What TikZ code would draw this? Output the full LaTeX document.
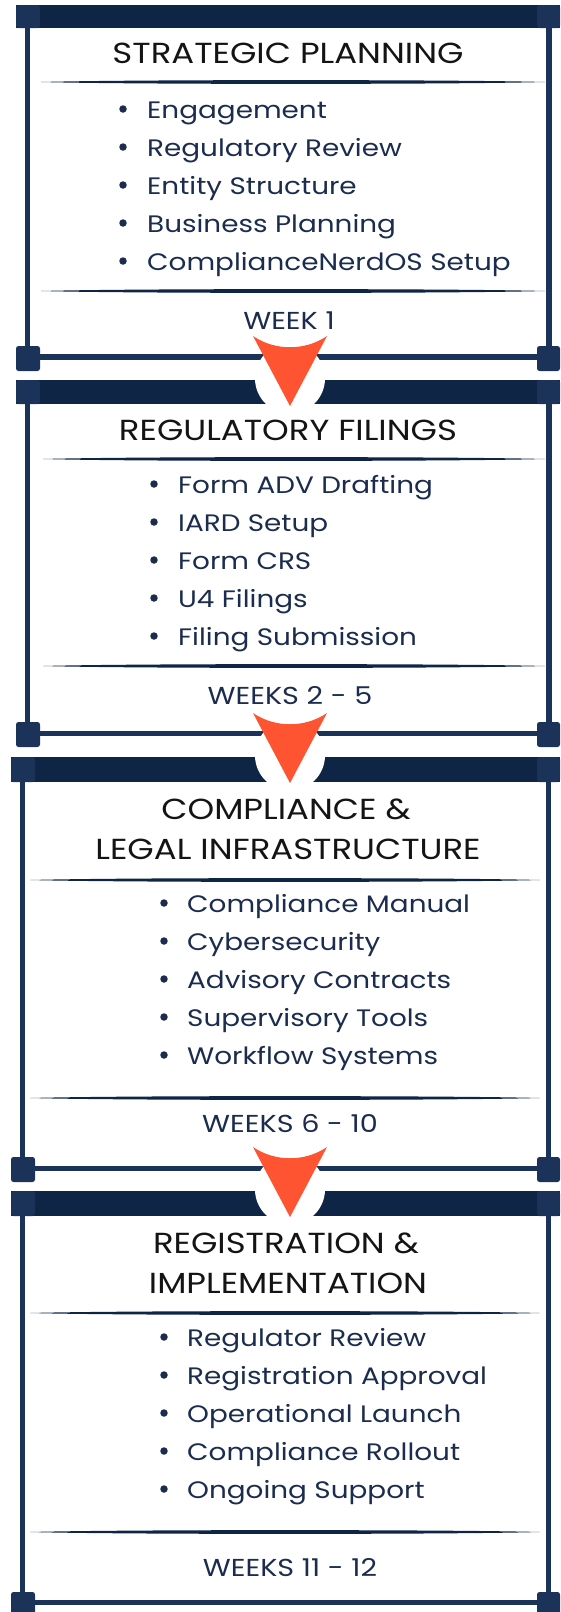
\documentclass[tikz,border=0pt]{standalone}
\usepackage{fontspec}
\setmainfont{Poppins}[FakeStretch=1.17]
\usepackage{tikz}
\definecolor{barnavy}{RGB}{14,37,70}
\definecolor{framenavy}{RGB}{27,51,88}
\definecolor{textnavy}{RGB}{27,44,78}
\definecolor{arrowred}{RGB}{255,84,50}

\begin{document}
\begin{tikzpicture}[x=1pt,y=-1pt,
  title/.style={font=\fontsize{29}{34}\selectfont, text=black!92, inner sep=0pt, anchor=base},
  item/.style={font=\fontsize{23.8}{28}\selectfont, text=textnavy, inner sep=0pt, anchor=base west},
  week/.style={font=\fontsize{24.5}{29}\selectfont, text=textnavy, inner sep=0pt, anchor=base},
  dot/.style={circle, fill=textnavy, minimum size=7.5pt, inner sep=0pt},
  bar/.style={fill=barnavy},
  corner/.style={fill=framenavy, rounded corners=2.5pt},
  frame/.style={draw=framenavy, line width=5.5pt},
  sep/.style={fill=barnavy},
  hole/.style={fill=white},
  point/.style={fill=arrowred}]
\useasboundingbox (0,0) rectangle (560,1612);
% box 1
\fill [bar] (16,5) rectangle (560,28);
\draw [frame] (27.5,28) -- (27.5,358);
\draw [frame] (549,28) -- (549,358);
\draw [frame] (28,357) -- (548,357);
\fill [corner] (16,5) rectangle (40,28);
\fill [corner] (537,5) rectangle (560,28);
\fill [corner] (16,346) rectangle (40,371);
\fill [corner] (537,346) rectangle (560,371);
\fill [sep] (41,82) .. controls (130,79.5) and (450,79.5) .. (545,82) .. controls (450,84.5) and (130,84.5) .. (41,82) -- cycle;
\fill [sep] (41,291) .. controls (130,288.5) and (450,288.5) .. (545,291) .. controls (450,293.5) and (130,293.5) .. (41,291) -- cycle;
\node [title] (t1) at (288,63.5) {STRATEGIC PLANNING};
\node [dot] (d11) at (123,109) {};
\node [dot] (d12) at (123,147) {};
\node [dot] (d13) at (123,185) {};
\node [dot] (d14) at (123,223) {};
\node [dot] (d15) at (123,261) {};
\node [item] (i11) at (147,118) {Engagement};
\node [item] (i12) at (147,156) {Regulatory Review};
\node [item] (i13) at (147,194) {Entity Structure};
\node [item] (i14) at (147,232) {Business Planning};
\node [item] (i15) at (147,270) {ComplianceNerdOS Setup};
\node [week] (w1) at (289,329) {WEEK 1};
% box 2
\fill [bar] (16,380) rectangle (560,404);
\draw [frame] (27.5,404) -- (27.5,734);
\draw [frame] (549,404) -- (549,734);
\draw [frame] (28,733.5) -- (548,733.5);
\fill [corner] (16,380) rectangle (40,404);
\fill [corner] (537,380) rectangle (560,404);
\fill [corner] (16,722) rectangle (40,747);
\fill [corner] (537,722) rectangle (560,747);
\fill [sep] (43,459) .. controls (130,456.5) and (450,456.5) .. (545,459) .. controls (450,461.5) and (130,461.5) .. (43,459) -- cycle;
\fill [sep] (43,666) .. controls (130,663.5) and (450,663.5) .. (545,666) .. controls (450,668.5) and (130,668.5) .. (43,666) -- cycle;
\node [title] (t2) at (288,440.5) {REGULATORY FILINGS};
\node [dot] (d21) at (154,484) {};
\node [dot] (d22) at (154,522) {};
\node [dot] (d23) at (154,560) {};
\node [dot] (d24) at (154,598) {};
\node [dot] (d25) at (154,636) {};
\node [item] (i21) at (178,493) {Form ADV Drafting};
\node [item] (i22) at (178,531) {IARD Setup};
\node [item] (i23) at (178,569) {Form CRS};
\node [item] (i24) at (178,607) {U4 Filings};
\node [item] (i25) at (178,645) {Filing Submission};
\node [week] (w2) at (290,704) {WEEKS 2 - 5};
% box 3
\fill [bar] (11,757) rectangle (560,782);
\draw [frame] (22.5,782) -- (22.5,1169);
\draw [frame] (548.5,782) -- (548.5,1169);
\draw [frame] (23,1168.5) -- (548,1168.5);
\fill [corner] (11,757) rectangle (35,782);
\fill [corner] (537,757) rectangle (560,782);
\fill [corner] (11,1157) rectangle (35,1182);
\fill [corner] (537,1157) rectangle (560,1182);
\fill [sep] (30,880) .. controls (120,877.5) and (450,877.5) .. (540,880) .. controls (450,882.5) and (120,882.5) .. (30,880) -- cycle;
\fill [sep] (30,1098) .. controls (120,1095.5) and (450,1095.5) .. (540,1098) .. controls (450,1100.5) and (120,1100.5) .. (30,1098) -- cycle;
\node [title] (t3a) at (286,819.5) {COMPLIANCE \&};
\node [title] (t3b) at (288,859.5) {LEGAL INFRASTRUCTURE};
\node [dot] (d31) at (164,903) {};
\node [dot] (d32) at (164,941) {};
\node [dot] (d33) at (164,979) {};
\node [dot] (d34) at (164,1017) {};
\node [dot] (d35) at (164,1055) {};
\node [item] (i31) at (187,912) {Compliance Manual};
\node [item] (i32) at (187,950) {Cybersecurity};
\node [item] (i33) at (187,988) {Advisory Contracts};
\node [item] (i34) at (187,1026) {Supervisory Tools};
\node [item] (i35) at (187,1064) {Workflow Systems};
\node [week] (w3) at (290,1132) {WEEKS 6 - 10};
% box 4
\fill [bar] (11,1191) rectangle (560,1216);
\draw [frame] (22.5,1216) -- (22.5,1603);
\draw [frame] (548.5,1216) -- (548.5,1603);
\draw [frame] (23,1602.5) -- (548,1602.5);
\fill [corner] (11,1191) rectangle (35,1216);
\fill [corner] (537,1191) rectangle (560,1216);
\fill [corner] (11,1592) rectangle (35,1616);
\fill [corner] (537,1592) rectangle (560,1616);
\fill [sep] (30,1313) .. controls (120,1310.5) and (450,1310.5) .. (540,1313) .. controls (450,1315.5) and (120,1315.5) .. (30,1313) -- cycle;
\fill [sep] (30,1532) .. controls (120,1529.5) and (450,1529.5) .. (540,1532) .. controls (450,1534.5) and (120,1534.5) .. (30,1532) -- cycle;
\node [title] (t4a) at (286,1253.5) {REGISTRATION \&};
\node [title] (t4b) at (288,1293.5) {IMPLEMENTATION};
\node [dot] (d41) at (164,1337) {};
\node [dot] (d42) at (164,1375) {};
\node [dot] (d43) at (164,1413) {};
\node [dot] (d44) at (164,1451) {};
\node [dot] (d45) at (164,1489) {};
\node [item] (i41) at (187,1346) {Regulator Review};
\node [item] (i42) at (187,1384) {Registration Approval};
\node [item] (i43) at (187,1422) {Operational Launch};
\node [item] (i44) at (187,1460) {Compliance Rollout};
\node [item] (i45) at (187,1498) {Ongoing Support};
\node [week] (w4) at (290,1576) {WEEKS 11 - 12};
% arrows between boxes
\fill [hole] (290,378.5) circle (35);
\fill [point] (253,336) .. controls (275,351) and (305,351) .. (327,336) -- (290,406) -- cycle;
\fill [hole] (290,755.5) circle (35);
\fill [point] (253,713) .. controls (275,728) and (305,728) .. (327,713) -- (290,783) -- cycle;
\fill [hole] (290,1189.5) circle (35);
\fill [point] (253,1147) .. controls (275,1162) and (305,1162) .. (327,1147) -- (290,1217) -- cycle;
\end{tikzpicture}
\end{document}
